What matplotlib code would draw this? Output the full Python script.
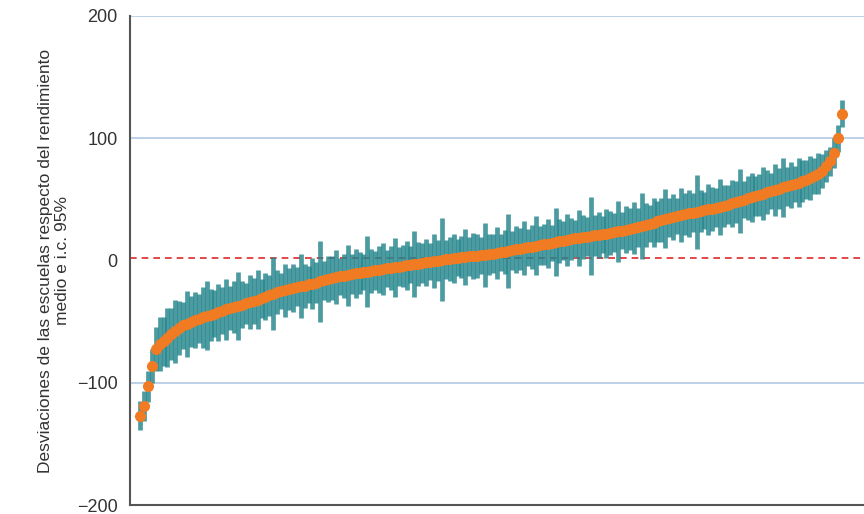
import numpy as np
import matplotlib.pyplot as plt

plt.rcParams['font.family'] = ['Liberation Sans', 'DejaVu Sans']

# desviaciones estimadas por escuela (ordenadas)
desv = [-127, -119, -103, -86, -72, -68, -66, -63, -60, -58,
        -55, -53, -52, -50, -48.5, -47.5, -46.5, -45, -44.5, -43.5,
        -42.5, -41, -40, -39, -38, -37, -36, -35, -34, -33,
        -32, -31, -29.5, -28.5, -27, -26, -25, -24.5, -23.5, -22.5,
        -21.5, -21, -20.5, -19.5, -19, -18, -17, -16, -15, -14.5,
        -13.5, -13, -12.5, -12, -11, -10.5, -10, -9.5, -9, -8.5,
        -8, -7.5, -7, -6.5, -6, -5.5, -5, -4.5, -4, -3.5,
        -3, -2.5, -2, -1.5, -1, -0.5, 0, 0.5, 1, 1.5,
        2, 2.3, 2.7, 3, 3.4, 3.8, 4, 4.3, 4.6, 5,
        5.5, 6, 6.6, 7.2, 7.8, 8.4, 9, 9.6, 10.2, 10.8,
        11.4, 12, 12.6, 13.2, 13.8, 14.4, 15, 15.6, 16.2, 16.8,
        17.4, 18, 18.5, 19, 19.5, 20, 20.5, 21, 21.5, 22,
        22.6, 23.2, 23.8, 24.5, 25.2, 25.9, 26.6, 27.3, 28.2, 29,
        30, 31, 32, 33, 34.2, 35, 35.8, 36.5, 37.2, 38,
        38.6, 39.2, 39.8, 40.4, 41, 41.8, 42.5, 43.2, 44, 44.8,
        45.8, 46.8, 47.8, 48.8, 49.8, 50.8, 51.8, 52.8, 53.8, 54.8,
        55.8, 56.8, 57.8, 58.8, 59.8, 60.8, 61.6, 62.6, 63.6, 64.8,
        66, 67.2, 69, 71, 73.5, 77, 81, 88, 100, 120]

# semiamplitud del intervalo de confianza al 95%
ic = [12, 12, 13, 14, 18, 22, 20, 24, 21, 26,
      22, 19, 27, 21, 23, 20, 25, 28, 21, 19,
      23, 19, 25, 18, 21, 28, 19, 17, 22, 19,
      24, 16, 19, 17, 30, 18, 15, 22, 17, 20,
      16, 26, 18, 15, 21, 17, 33, 16, 19, 18,
      22, 15, 18, 25, 16, 20, 17, 15, 29, 18,
      16, 19, 21, 15, 18, 24, 16, 17, 20, 15,
      27, 18, 16, 19, 15, 22, 17, 34, 16, 18,
      20, 15, 17, 23, 16, 19, 18, 15, 26, 17,
      16, 21, 15, 18, 30, 16, 19, 17, 22, 15,
      18, 24, 16, 17, 20, 15, 28, 18, 16, 21,
      17, 15, 23, 18, 16, 32, 17, 19, 15, 20,
      18, 16, 25, 15, 19, 17, 21, 16, 27, 18,
      15, 20, 17, 18, 24, 16, 19, 15, 22, 17,
      19, 16, 30, 17, 15, 21, 18, 16, 23, 17,
      16, 19, 17, 26, 15, 18, 20, 16, 17, 22,
      18, 15, 21, 17, 24, 16, 19, 15, 20, 17,
      16, 18, 15, 17, 14, 13, 12, 12, 11, 11]

media = 2  # linea de referencia (rendimiento medio)
yticks = [-200, -100, 0, 100, 200]

desv = np.array(desv)
ic = np.array(ic)
x = np.arange(len(desv))

fig = plt.figure(figsize=(8.64, 5.14), dpi=100)
ax = fig.add_axes([130/864, 9/514, 734/864, 489/514])

for y in [200, 100, -100]:
    ax.axhline(y, color='#a9c4e0', lw=1.1, zorder=0)

# la linea roja queda debajo de las barras (se oscurece donde las cruza)
ax.axhline(media, color='#e0262a', lw=1.2, ls=(0, (4, 3)), zorder=1)

ax.errorbar(x, desv, yerr=ic, fmt='none', ecolor='#23858c', elinewidth=3.4,
            alpha=0.82, zorder=2)
ax.plot(x, desv, 'o', color='#f07b22', ms=8, mec='none', zorder=3)

ax.set_xlim(-2.55, -2.55 + 734 / 3.92)
ax.set_ylim(-200, 200)
ax.set_yticks(yticks)
ax.set_yticklabels(['\u2212200', '\u2212100', '0', '100', '200'])
ax.set_xticks([])
ax.tick_params(axis='y', length=0, pad=9, labelsize=13, labelcolor='#333333')

for s in ['top', 'right']:
    ax.spines[s].set_visible(False)
for s in ['left', 'bottom']:
    ax.spines[s].set_color('#555555')
    ax.spines[s].set_linewidth(1.5)

ax.set_ylabel('Desviaciones de las escuelas respecto del rendimiento\nmedio e i.c. 95%',
              fontsize=12.5, color='#333333', labelpad=5, linespacing=1.15)

fig.savefig('out.png', dpi=100)
